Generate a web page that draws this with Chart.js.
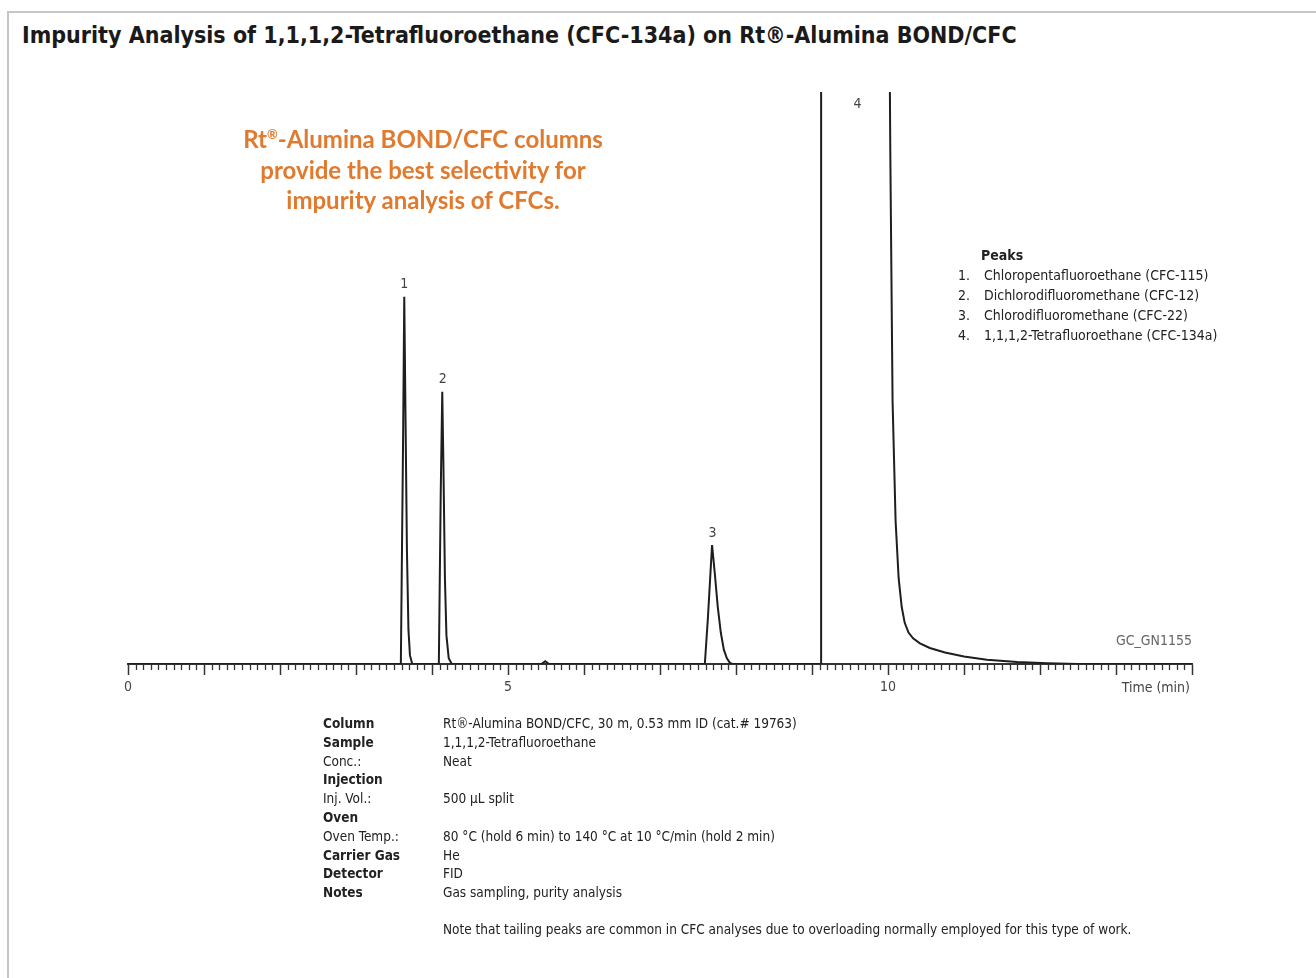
<!DOCTYPE html>
<html>
<head>
<meta charset="utf-8">
<script src="https://cdn.jsdelivr.net/npm/chart.js@4/dist/chart.umd.min.js"></script>
<style>
  body { margin: 0; background: #fff; font-family: "DejaVu Sans Condensed", "Liberation Sans", sans-serif; color: #222; }
  #frame { position: absolute; left: 7px; top: 11px; width: 1400px; height: 1100px; border-left: 2px solid #c6c6c6; border-top: 2px solid #c6c6c6; }
  #title { position: absolute; left: 22px; top: 22px; font-size: 23px; font-weight: bold; white-space: nowrap; color: #1a1a1a; }
  #wrap { position: absolute; left: 0; top: 0; width: 1316px; height: 720px; }
  #promo { position: absolute; left: 200px; top: 124px; width: 446px; text-align: center; font-family: Lato, "Open Sans", sans-serif; font-weight: bold; font-size: 24px; line-height: 30.5px; color: #e07a2e; }
  #promo sup { font-size: 13px; vertical-align: 9px; line-height: 0; }
  #peaks { position: absolute; left: 958px; top: 245px; font-size: 14px; line-height: 20px; }
  #peaks b { margin-left: 23px; }
  #peaks .n { display: inline-block; width: 26px; }
  #gc { position: absolute; right: 124px; top: 632px; font-size: 14px; color: #666; }
  #info { position: absolute; left: 323px; top: 714px; font-size: 13.5px; line-height: 18.8px; }
  #info td { padding: 0; vertical-align: top; white-space: nowrap; }
  #info td.k { width: 120px; }
</style>
</head>
<body>
<div id="frame"></div>
<div id="title">Impurity Analysis of 1,1,1,2-Tetrafluoroethane (CFC-134a) on Rt®-Alumina BOND/CFC</div>
<div id="wrap"><canvas id="grafico" width="1316" height="720"></canvas></div>
<div id="promo">Rt<sup>®</sup>-Alumina BOND/CFC columns<br>provide the best selectivity for<br>impurity analysis of CFCs.</div>
<div id="peaks"></div>
<div id="gc">GC_GN1155</div>
<table id="info" cellspacing="0"></table>
<script>
// Trazado del cromatograma (tiempo en min, señal en % de escala)
const tiempos = [0, 3.59, 3.62, 3.635, 3.65, 3.67, 3.69, 3.71, 3.74,
    4.09, 4.115, 4.135, 4.15, 4.17, 4.19, 4.22, 4.26,
    5.44, 5.49, 5.54,
    7.59, 7.63, 7.66, 7.685, 7.72, 7.76, 7.80, 7.84, 7.88, 7.92, 7.95,
    9.12, 9.12, 10.01, 10.03, 10.06, 10.10, 10.14, 10.18, 10.22, 10.27, 10.33, 10.42,
    10.55, 10.75, 11.0, 11.3, 11.7, 12.1, 12.5, 14];
const senal = [0, 0, 40, 64.2, 45, 20, 6, 1.5, 0,
    0, 30, 47.6, 35, 15, 5, 1, 0,
    0, 0.5, 0,
    0, 8, 15, 20.8, 16, 10, 5.5, 2.5, 1, 0.2, 0,
    0, 130, 130, 90, 46, 25, 15, 10, 7.2, 5.5, 4.5, 3.6,
    2.8, 2.0, 1.3, 0.75, 0.35, 0.12, 0, 0];

// Picos identificados
const picosNumero = ["1", "2", "3", "4"];
const picosTiempo = [3.635, 4.14, 7.69, 9.6];
const picosAltura = [64.2, 47.6, 20.8, 130];
const picosNombre = [
    "Chloropentafluoroethane (CFC-115)",
    "Dichlorodifluoromethane (CFC-12)",
    "Chlorodifluoromethane (CFC-22)",
    "1,1,1,2-Tetrafluoroethane (CFC-134a)"
];

// Ejes
const ejeX = { min: 0, max: 14, paso: 1, menor: 0.1 };
const etiquetasX = [0, 5, 10];

// Condiciones
const condClaves = ["Column", "Sample", "Conc.:", "Injection", "Inj. Vol.:", "Oven", "Oven Temp.:", "Carrier Gas", "Detector", "Notes"];
const condNegrita = [true, true, false, true, false, true, false, true, true, true];
const condValores = [
    "Rt®-Alumina BOND/CFC, 30 m, 0.53 mm ID (cat.# 19763)",
    "1,1,1,2-Tetrafluoroethane",
    "Neat",
    "",
    "500 µL split",
    "",
    "80 °C (hold 6 min) to 140 °C at 10 °C/min (hold 2 min)",
    "He",
    "FID",
    "Gas sampling, purity analysis"
];
const nota = "Note that tailing peaks are common in CFC analyses due to overloading normally employed for this type of work.";

// Leyenda de picos
let htmlPicos = "<b>Peaks</b><br>";
picosNombre.forEach((n, i) => {
    htmlPicos += `<span class="n">${picosNumero[i]}.</span>${n}<br>`;
});
document.getElementById("peaks").innerHTML = htmlPicos;

// Tabla de condiciones
const tabla = document.getElementById("info");
condClaves.forEach((k, i) => {
    const tr = document.createElement("tr");
    tr.innerHTML = `<td class="k">${condNegrita[i] ? "<b>" + k + "</b>" : k}</td><td>${condValores[i]}</td>`;
    tabla.appendChild(tr);
});
const trNota = document.createElement("tr");
trNota.innerHTML = `<td class="k" style="padding-top:18px"></td><td style="padding-top:18px">${nota}</td>`;
tabla.appendChild(trNota);

const fuente = '"DejaVu Sans Condensed", sans-serif';

// Marcas menores, números de pico y título del eje
const extras = {
    id: "extras",
    afterDraw(chart) {
        const ctx = chart.ctx;
        const x = chart.scales.x;
        const y = chart.scales.y;
        const base = chart.chartArea.bottom;
        ctx.save();
        ctx.strokeStyle = "#333";
        ctx.lineWidth = 1.3;
        const n = Math.round((ejeX.max - ejeX.min) / ejeX.menor);
        for (let i = 0; i <= n; i++) {
            if (i % 10 === 0) continue;
            const px = Math.round(x.getPixelForValue(ejeX.min + i * ejeX.menor)) + 0.5;
            ctx.beginPath();
            ctx.moveTo(px, base);
            ctx.lineTo(px, base + 6);
            ctx.stroke();
        }
        ctx.fillStyle = "#444";
        ctx.font = "14px " + fuente;
        ctx.textAlign = "center";
        ctx.textBaseline = "bottom";
        picosNumero.forEach((num, i) => {
            const px = x.getPixelForValue(picosTiempo[i]);
            const py = Math.max(y.getPixelForValue(picosAltura[i]) - 5, chart.chartArea.top + 19);
            ctx.fillText(num, px, py);
        });
        ctx.textAlign = "right";
        ctx.textBaseline = "middle";
        ctx.fillText("Time (min)", x.right - 2, base + 24);
        ctx.restore();
    }
};

new Chart(document.getElementById("grafico").getContext("2d"), {
    type: "line",
    data: {
        datasets: [{
            data: tiempos.map((t, i) => ({ x: t, y: senal[i] })),
            borderColor: "#1e1e1e",
            borderWidth: 2,
            pointRadius: 0,
            tension: 0,
            fill: false
        }]
    },
    options: {
        responsive: false,
        animation: false,
        layout: { padding: { left: 128, right: 124, top: 92, bottom: 0 } },
        plugins: { legend: { display: false }, tooltip: { enabled: false } },
        scales: {
            x: {
                type: "linear",
                min: ejeX.min,
                max: ejeX.max,
                afterFit: s => { s.height = 56; },
                ticks: {
                    stepSize: ejeX.paso,
                    autoSkip: false,
                    maxRotation: 0,
                    padding: 4,
                    color: "#444",
                    font: { family: fuente, size: 14 },
                    callback: v => etiquetasX.includes(v) ? String(v) : ""
                },
                grid: { drawOnChartArea: false, drawTicks: true, tickLength: 11, tickColor: "#333", tickWidth: 1.5 },
                border: { color: "#333", width: 2 }
            },
            y: { display: false, min: 0, max: 100 }
        }
    },
    plugins: [extras]
});
</script>
</body>
</html>
